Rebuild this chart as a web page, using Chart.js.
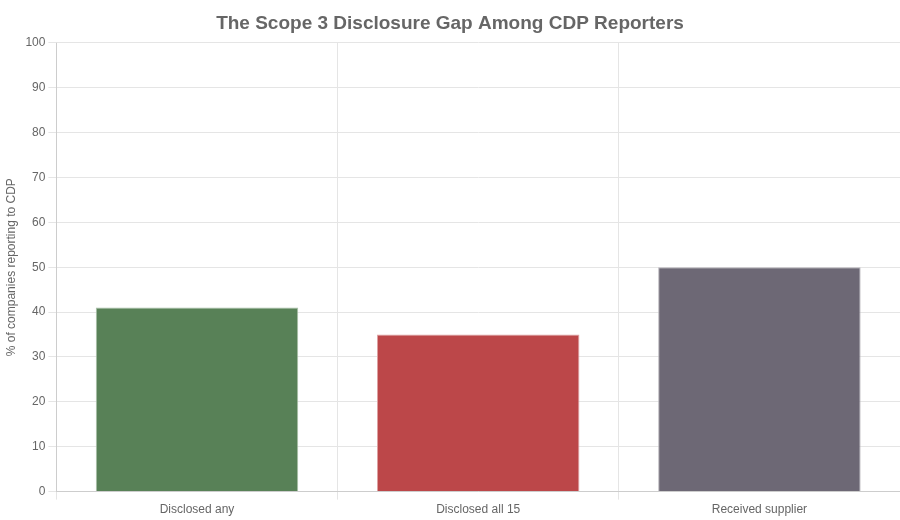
<!DOCTYPE html>
<html>
<head>
<meta charset="utf-8">
<script src="https://cdn.jsdelivr.net/npm/chart.js@4"></script>
<style>
  html, body { margin: 0; padding: 0; background: #fff; }
  #wrap { width: 900px; height: 520px; }
</style>
</head>
<body>
<div id="wrap"><canvas id="chart"></canvas></div>
<script>
const categories = ['Disclosed any', 'Disclosed all 15', 'Received supplier'];
const shares = [41, 35, 50];
const barColors = ['#588157', '#bc4749', '#6d6875'];
const barBorders = ['#a9c0a8', '#dea3a4', '#b6b3ba'];

Chart.defaults.font.family = '"Liberation Sans", Arial, Helvetica, sans-serif';
Chart.defaults.color = '#666';

const ctx = document.getElementById('chart');
new Chart(ctx, {
  type: 'bar',
  data: {
    labels: categories,
    datasets: [{
      data: shares,
      backgroundColor: barColors,
      borderColor: barBorders,
      borderWidth: 1
    }]
  },
  options: {
    responsive: true,
    maintainAspectRatio: false,
    animation: false,
    plugins: {
      legend: { display: false },
      tooltip: { enabled: false },
      title: {
        display: true,
        text: 'The Scope 3 Disclosure Gap Among CDP Reporters',
        font: { size: 19, weight: 'bold' },
        color: '#666',
        padding: { top: 12, bottom: 8 }
      }
    },
    scales: {
      x: {
        grid: { color: '#e5e5e5', offset: true },
        ticks: { font: { size: 12 }, color: '#666' }
      },
      y: {
        min: 0,
        max: 100,
        ticks: { stepSize: 10, font: { size: 12 }, color: '#666' },
        grid: { color: '#e5e5e5' },
        title: {
          display: true,
          text: '% of companies reporting to CDP',
          font: { size: 12 },
          color: '#666'
        }
      }
    }
  }
});
</script>
</body>
</html>
